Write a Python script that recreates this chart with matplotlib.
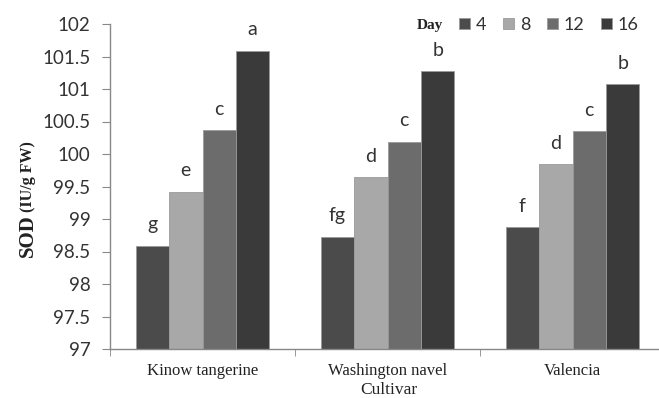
import numpy as np
import matplotlib
matplotlib.use("Agg")
import matplotlib.pyplot as plt
from matplotlib.ticker import FixedLocator

# data
cultivars = ["Kinow tangerine", "Washington navel", "Valencia"]
days = ["4", "8", "12", "16"]
day4 = [98.59, 98.73, 98.88]
day8 = [99.42, 99.64, 99.84]
day12 = [100.37, 100.19, 100.35]
day16 = [101.59, 101.27, 101.08]
letters4 = ["g", "fg", "f"]
letters8 = ["e", "d", "d"]
letters12 = ["c", "c", "c"]
letters16 = ["a", "b", "b"]

series = [day4, day8, day12, day16]
letters = [letters4, letters8, letters12, letters16]
colors = ["#4b4b4b", "#a8a8a8", "#6c6c6c", "#3a3a3a"]

sans = "Lato"
serif = "Liberation Serif"

fig = plt.figure(figsize=(6.59, 3.98), dpi=100)
ax = fig.add_axes([110 / 659, 1 - 349 / 398, 555 / 659, 325 / 398])

x = np.arange(len(cultivars))
width = 0.181
for i, (vals, labs) in enumerate(zip(series, letters)):
    pos = x + (i - 1.5) * width
    ax.bar(pos, np.array(vals) - 97, bottom=97, width=width,
           color=colors[i], edgecolor="#9a9a9a", linewidth=0.6,
           label=days[i])
    for p, v, t in zip(pos, vals, labs):
        ax.annotate(t, (p, v), xytext=(0, 11), textcoords="offset points",
                    ha="center", va="baseline", fontsize=14, family=sans,
                    color="#333333")

ax.set_xlim(-0.5, 2.5)
ax.set_ylim(97, 102)
ax.set_yticks(np.arange(97, 102.01, 0.5))
ax.set_yticklabels(["97", "97.5", "98", "98.5", "99", "99.5", "100",
                    "100.5", "101", "101.5", "102"])
ax.set_xticks(x)
ax.set_xticklabels(cultivars, family=serif, fontsize=12, color="#222222")
ax.tick_params(axis="x", length=0, pad=10)
ax.xaxis.set_minor_locator(FixedLocator([-0.5, 0.5, 1.5]))
ax.tick_params(axis="x", which="minor", length=5, direction="out",
               color="#888888")
ax.tick_params(axis="y", length=6, direction="out", color="#888888",
               labelsize=13.5, labelcolor="#333333", pad=8)
for lab in ax.get_yticklabels():
    lab.set_family(sans)

for s in ["top", "right"]:
    ax.spines[s].set_visible(False)
for s in ["left", "bottom"]:
    ax.spines[s].set_color("#888888")
    ax.spines[s].set_linewidth(1.0)

# axis titles
fig.text(389 / 659, 1 - 390 / 398, "Cultivar", ha="center", va="center",
         family=serif, fontsize=12.5, color="#222222")
fig.text(33 / 659, 1 - 257 / 398, "SOD", rotation=90, rotation_mode="anchor",
         ha="left", va="baseline", family=serif, fontsize=15,
         fontweight="bold", color="#222222")
fig.text(32 / 659, 1 - 212 / 398, "(IU/g FW)", rotation=90,
         rotation_mode="anchor", ha="left", va="baseline", family=serif,
         fontsize=11.5, fontweight="bold", color="#222222")

# legend
fig.text(430 / 659, 1 - 25 / 398, "Day", ha="center", va="center",
         family=serif, fontsize=11, fontweight="bold", color="#222222")
leg = ax.legend(ncol=4, loc="center left", bbox_to_anchor=(459 / 659, 1 - 25 / 398),
                bbox_transform=fig.transFigure, frameon=False,
                handlelength=0.6, handleheight=0.6, handletextpad=0.35,
                columnspacing=0.9, borderaxespad=0, borderpad=0,
                prop={"family": sans, "size": 13})
for t in leg.get_texts():
    t.set_color("#333333")

fig.savefig("out.png", dpi=100)
